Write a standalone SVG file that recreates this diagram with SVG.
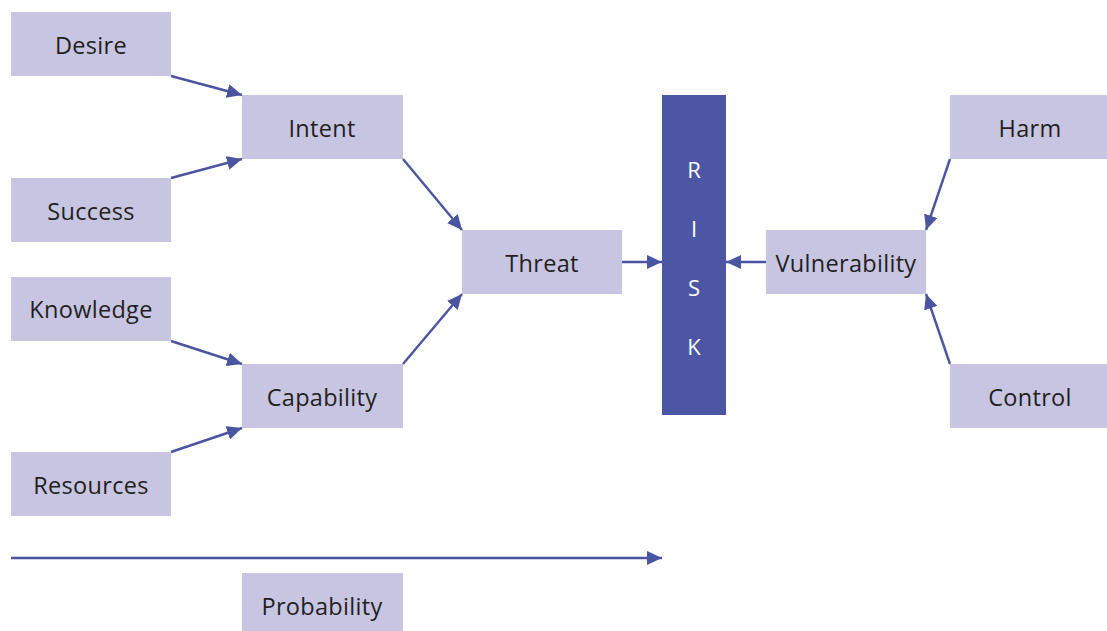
<svg xmlns="http://www.w3.org/2000/svg" width="1107" height="631" viewBox="0 0 1107 631">
<defs>
<style>
.box{fill:#c7c5e2}
.lbl{font-family:"Open Sans","Noto Sans","Liberation Sans",sans-serif;font-size:23.5px;letter-spacing:0.3px;fill:#231f20;text-anchor:middle;dominant-baseline:central}
.risk{font-family:"Open Sans","Noto Sans","Liberation Sans",sans-serif;font-size:22px;fill:#ffffff;text-anchor:middle;dominant-baseline:central}
.con{stroke:#4a55a2;stroke-width:2.4;fill:none;marker-end:url(#ah)}
</style>
<marker id="ah" markerUnits="userSpaceOnUse" markerWidth="16" markerHeight="14" refX="15" refY="7" orient="auto">
<path d="M0,0 L15,7 L0,14 Z" fill="#4a55a2"/>
</marker>
</defs>
<rect width="1107" height="631" fill="#ffffff"/>
<g id="connectors">
<line class="con" x1="171" y1="76" x2="242" y2="95"/>
<line class="con" x1="171" y1="178" x2="242" y2="159"/>
<line class="con" x1="171" y1="341" x2="242" y2="364"/>
<line class="con" x1="171" y1="452" x2="242" y2="428"/>
<line class="con" x1="403" y1="159" x2="462" y2="230"/>
<line class="con" x1="403" y1="364" x2="462" y2="294"/>
<line class="con" x1="622" y1="262" x2="662" y2="262"/>
<line class="con" x1="766" y1="262" x2="726" y2="262"/>
<line class="con" x1="950" y1="159" x2="926" y2="230"/>
<line class="con" x1="950" y1="364" x2="926" y2="294"/>
<line class="con" x1="11" y1="558" x2="662" y2="558"/>
</g>
<g id="desire"><rect class="box" x="11" y="12" width="160" height="64"/><text class="lbl" x="91" y="45">Desire</text></g>
<g id="intent"><rect class="box" x="242" y="95" width="161" height="64"/><text class="lbl" x="322" y="128">Intent</text></g>
<g id="success"><rect class="box" x="11" y="178" width="160" height="64"/><text class="lbl" x="91" y="211">Success</text></g>
<g id="knowledge"><rect class="box" x="11" y="277" width="160" height="64"/><text class="lbl" x="91" y="309">Knowledge</text></g>
<g id="capability"><rect class="box" x="242" y="364" width="161" height="64"/><text class="lbl" x="322" y="397">Capability</text></g>
<g id="resources"><rect class="box" x="11" y="452" width="160" height="64"/><text class="lbl" x="91" y="485">Resources</text></g>
<g id="threat"><rect class="box" x="462" y="230" width="160" height="64"/><text class="lbl" x="542" y="263">Threat</text></g>
<g id="risk"><rect x="662" y="95" width="64" height="320" fill="#4d56a5"/>
<text class="risk" x="694" y="169">R</text>
<text class="risk" x="694" y="228">I</text>
<text class="risk" x="694" y="287">S</text>
<text class="risk" x="694" y="346">K</text></g>
<g id="vulnerability"><rect class="box" x="766" y="230" width="160" height="64"/><text class="lbl" x="846" y="263">Vulnerability</text></g>
<g id="harm"><rect class="box" x="950" y="95" width="157" height="64"/><text class="lbl" x="1030" y="128">Harm</text></g>
<g id="control"><rect class="box" x="950" y="364" width="157" height="64"/><text class="lbl" x="1030" y="397">Control</text></g>
<g id="probability"><rect class="box" x="242" y="573" width="161" height="58"/><text class="lbl" x="322" y="606">Probability</text></g>
</svg>
